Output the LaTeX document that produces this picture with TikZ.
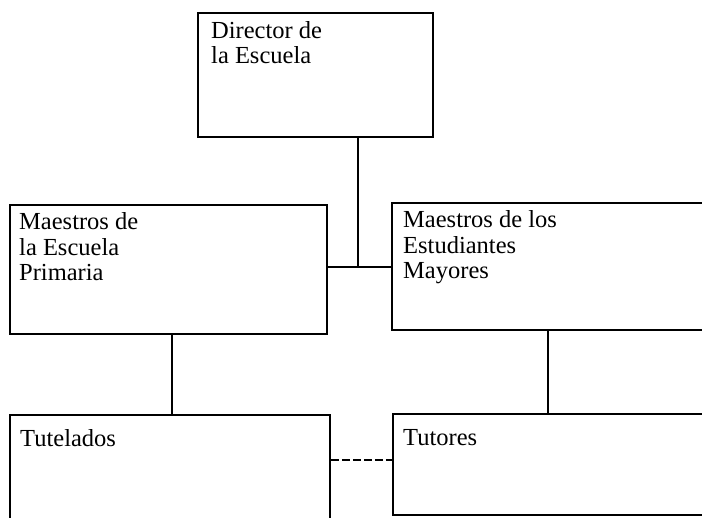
\documentclass[tikz,border=0pt]{standalone}
\usepackage{fontspec}
\setmainfont{Liberation Serif}
\begin{document}
\begin{tikzpicture}[x=1pt,y=-1pt,
  box/.style={draw=black,line width=1.7pt,rectangle,inner sep=0pt},
  lbl/.style={anchor=base west,inner sep=0pt,align=left,font=\fontsize{24.5}{25.5}\selectfont},
  conn/.style={draw=black,line width=1.7pt},
  dashconn/.style={draw=black,line width=1.7pt,dash pattern=on 8pt off 3pt}]
\useasboundingbox (0,0) rectangle (702,518);
\clip (0,0) rectangle (702,518);
% boxes
\node[box,minimum width=235pt,minimum height=124pt] (dir) at (315.5,75) {};
\node[box,minimum width=317pt,minimum height=129pt] (mep) at (168.5,269.5) {};
\node[box,minimum width=318pt,minimum height=127pt] (mem) at (551,266.5) {};
\node[box,minimum width=320pt,minimum height=120pt] (tut) at (170,475) {};
\node[box,minimum width=317pt,minimum height=101pt] (tor) at (551.5,464.5) {};
% labels (anchor = baseline of the last line)
\node[lbl] (tdir) at (211,64) {Director de\\la Escuela};
\node[lbl] (tmep) at (19,281) {Maestros de\\la Escuela\\Primaria};
\node[lbl] (tmem) at (403,279) {Maestros de los\\Estudiantes\\Mayores};
\node[lbl] (ttut) at (20,447) {Tutelados};
\node[lbl] (ttor) at (403,446) {Tutores};
% connectors
\coordinate (j) at (358,267);
\coordinate (jl) at (172,0);
\coordinate (jr) at (548,0);
\coordinate (jd) at (0,460);
\draw[conn] (dir.south -| j) -- (j);
\draw[conn] (mep.east |- j) -- (mem.west |- j);
\draw[conn] (mep.south -| jl) -- (tut.north -| jl);
\draw[conn] (mem.south -| jr) -- (tor.north -| jr);
\draw[dashconn] (tut.east |- jd) -- (tor.west |- jd);
\end{tikzpicture}
\end{document}
